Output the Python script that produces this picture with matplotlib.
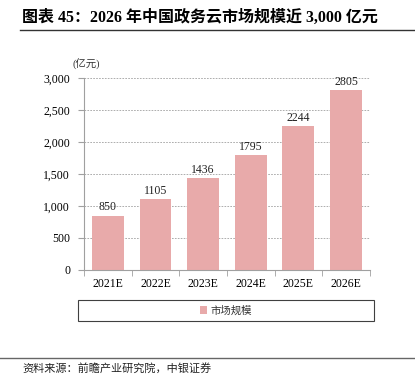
import matplotlib.pyplot as plt
from matplotlib.lines import Line2D
from matplotlib.patches import Rectangle

plt.rcParams['font.family'] = ['Liberation Serif', 'Noto Sans CJK SC', 'DejaVu Sans']

years = ['2021E', '2022E', '2023E', '2024E', '2025E', '2026E']
market_size = [850, 1105, 1436, 1795, 2244, 2805]
yticks = [0, 500, 1000, 1500, 2000, 2500, 3000]

bar_color = '#E8AAAA'
grid_color = '#A0A0A0'

fig = plt.figure(figsize=(4.15, 3.75), dpi=100)
ax = fig.add_axes([0.2024, 0.28, 0.689, 0.512])

x = range(len(years))
bars = ax.bar(x, market_size, width=0.67, color=bar_color, zorder=2,
              label='市场规模')
for i, v in zip(x, market_size):
    ax.text(i, v + 40, str(v), ha='center', va='bottom', fontsize=8.5,
            color='#222222', zorder=3)

ax.set_xlim(-0.5, len(years) - 0.5)
ax.set_ylim(0, 3000)
ax.set_yticks(yticks)
ax.set_yticklabels([f'{t:,}' for t in yticks], fontsize=8.5)
ax.set_xticks(list(x))
ax.set_xticklabels(years, fontsize=8.5)
ax.set_xticks([i - 0.5 for i in range(len(years) + 1)], minor=True)
ax.tick_params(axis='x', which='major', length=0, pad=6)
ax.tick_params(axis='x', which='minor', length=4, color=grid_color)
ax.tick_params(axis='y', length=4, color=grid_color, pad=6)

ax.yaxis.grid(True, linestyle=(0, (2, 1.5)), color=grid_color, linewidth=0.6, zorder=0)
for s in ['top', 'right']:
    ax.spines[s].set_visible(False)
for s in ['left', 'bottom']:
    ax.spines[s].set_color(grid_color)
    ax.spines[s].set_linewidth(0.8)

ax.text(-0.04, 1.04, '(亿元)', transform=ax.transAxes, ha='left', va='bottom',
        fontsize=7.5, color='#333333')

# legend box
box = (78 / 415, 1 - 321 / 375, 296 / 415, 21 / 375)
fig.add_artist(Rectangle(box[:2], box[2], box[3], transform=fig.transFigure,
                         fill=False, edgecolor='#404040', linewidth=0.8))
leg = fig.legend(handles=[bars], labels=['市场规模'], loc='center',
                 bbox_to_anchor=(box[0] + box[2] / 2, box[1] + box[3] / 2),
                 frameon=False, fontsize=7.5, handlelength=0.7, handleheight=0.7,
                 borderpad=0.0, handletextpad=0.4)
for t in leg.get_texts():
    t.set_color('#333333')

# title and source
fig.text(22 / 415, 1 - 18 / 375, '图表 45：2026 年中国政务云市场规模近 3,000 亿元',
         fontsize=11.5, fontweight='bold', ha='left', va='center')
fig.add_artist(Line2D([20 / 415, 1.0], [1 - 30 / 375] * 2, color='#333333', linewidth=1.0))
fig.add_artist(Line2D([0.0, 1.0], [1 - 358 / 375] * 2, color='#666666', linewidth=1.0))
fig.text(22 / 415, 1 - 368 / 375, '资料来源：前瞻产业研究院，中银证券',
         fontsize=8, style='italic', ha='left', va='center', color='#222222')

fig.savefig('out.png', dpi=100)
